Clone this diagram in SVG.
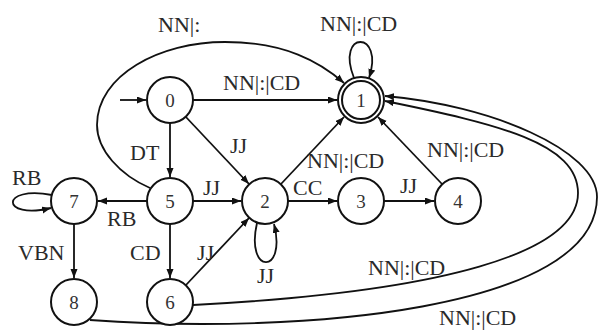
<svg xmlns="http://www.w3.org/2000/svg" width="598" height="331" viewBox="0 0 598 331">
  <defs>
    <marker id="arrow" markerWidth="10" markerHeight="8" refX="9" refY="3.5" orient="auto" markerUnits="userSpaceOnUse">
      <path d="M0,0 L9,3.5 L0,7 z" fill="#111"/>
    </marker>
    <style>
      .node circle { fill: #fff; stroke: #111; stroke-width: 2; }
      .node text { font-family: "Liberation Serif", "Times New Roman", serif; font-size: 19px; fill: #333; text-anchor: middle; }
      .edge { fill: none; stroke: #111; stroke-width: 1.8; marker-end: url(#arrow); }
      .lbl { font-family: "Liberation Serif", "Times New Roman", serif; font-size: 22px; fill: #2a2a2a; }
    </style>
  </defs>
  <rect width="598" height="331" fill="#fff"/>

  <g id="connectors">
    <!-- start arrow -->
    <path class="edge" d="M120,100 L146,100"/>
    <!-- 0 -> 1 -->
    <path class="edge" d="M193,100 L337,100"/>
    <!-- 0 -> 5 -->
    <path class="edge" d="M170,123 L170,177"/>
    <!-- 0 -> 2 -->
    <path class="edge" d="M185,116 L249,184"/>
    <!-- 2 -> 1 -->
    <path class="edge" d="M281,184 L344,117"/>
    <!-- 4 -> 1 -->
    <path class="edge" d="M442,184 L378,117"/>
    <!-- 5 -> 1 (NN|:) -->
    <path class="edge" d="M150,188 C120,175 97,150 97,125 C97,75 160,42 225,42 C285,42 320,62 344,83"/>
    <!-- 1 self loop -->
    <path class="edge" d="M354,78 C335,30 385,30 369,78"/>
    <!-- 5 -> 7 -->
    <path class="edge" d="M147,201 L98,201"/>
    <!-- 5 -> 2 -->
    <path class="edge" d="M193,201 L241,201"/>
    <!-- 2 -> 3 -->
    <path class="edge" d="M288,201 L337,201"/>
    <!-- 3 -> 4 -->
    <path class="edge" d="M384,201 L434,201"/>
    <!-- 7 self loop -->
    <path class="edge" d="M52,195 C0,185 0,220 51,208"/>
    <!-- 2 self loop -->
    <path class="edge" d="M257,223 C245,275 287,275 274,224"/>
    <!-- 5 -> 6 -->
    <path class="edge" d="M170,224 L170,278"/>
    <!-- 7 -> 8 -->
    <path class="edge" d="M74,224 L74,278"/>
    <!-- 6 -> 2 -->
    <path class="edge" d="M186,285 L249,218"/>
    <!-- 6 -> 1 -->
    <path class="edge" d="M193,305 C443,292 578,253 578,193 C578,143 498,124 385,101"/>
    <!-- 8 -> 1 -->
    <path class="edge" d="M90,320 C300,335 597,310 597,197 C597,150 490,105 385,96"/>
  </g>

  <g id="labels">
    <text class="lbl" x="158" y="32">NN|:</text>
    <text class="lbl" x="320" y="31">NN|:|CD</text>
    <text class="lbl" x="223" y="90">NN|:|CD</text>
    <text class="lbl" x="130" y="160">DT</text>
    <text class="lbl" x="230" y="153">JJ</text>
    <text class="lbl" x="307" y="168">NN|:|CD</text>
    <text class="lbl" x="427" y="157">NN|:|CD</text>
    <text class="lbl" x="12" y="185">RB</text>
    <text class="lbl" x="107" y="226">RB</text>
    <text class="lbl" x="203" y="195">JJ</text>
    <text class="lbl" x="293" y="195">CC</text>
    <text class="lbl" x="400" y="193">JJ</text>
    <text class="lbl" x="18" y="260">VBN</text>
    <text class="lbl" x="130" y="260">CD</text>
    <text class="lbl" x="197" y="260">JJ</text>
    <text class="lbl" x="257" y="283">JJ</text>
    <text class="lbl" x="368" y="275">NN|:|CD</text>
    <text class="lbl" x="439" y="325">NN|:|CD</text>
  </g>

  <g id="node0" class="node"><circle cx="170" cy="100" r="23"/><text x="170" y="107">0</text></g>
  <g id="node1" class="node"><circle cx="361" cy="100" r="23"/><circle cx="361" cy="100" r="19"/><text x="361" y="107">1</text></g>
  <g id="node2" class="node"><circle cx="265" cy="201" r="23"/><text x="265" y="208">2</text></g>
  <g id="node3" class="node"><circle cx="361" cy="201" r="23"/><text x="361" y="208">3</text></g>
  <g id="node4" class="node"><circle cx="458" cy="201" r="23"/><text x="458" y="208">4</text></g>
  <g id="node5" class="node"><circle cx="170" cy="201" r="23"/><text x="170" y="208">5</text></g>
  <g id="node6" class="node"><circle cx="170" cy="302" r="23"/><text x="170" y="309">6</text></g>
  <g id="node7" class="node"><circle cx="74" cy="201" r="23"/><text x="74" y="208">7</text></g>
  <g id="node8" class="node"><circle cx="74" cy="302" r="23"/><text x="74" y="309">8</text></g>
</svg>
